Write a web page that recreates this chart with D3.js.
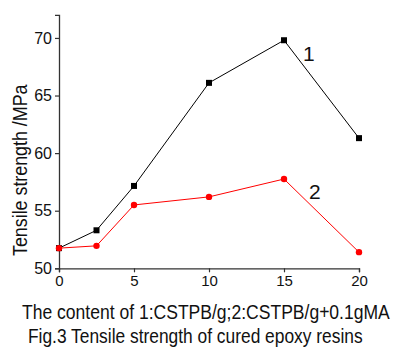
<!DOCTYPE html>
<html>
<head>
<meta charset="utf-8">
<script src="https://cdn.jsdelivr.net/npm/d3@7"></script>
<style>
  body { margin: 0; background: #fff; }
  text { font-family: "Liberation Sans", Arial, sans-serif; fill: #111; }
</style>
</head>
<body>
<div id="chart"></div>
<script>
// data
var contents = [0, 2.5, 5, 10, 15, 20];
var series1 = [51.75, 53.3, 57.15, 66.1, 69.8, 61.3];   // 1: CSTPB
var series2 = [51.75, 51.95, 55.5, 56.2, 57.75, 51.4];  // 2: CSTPB + 0.1g MA
var xTicks = [0, 5, 10, 15, 20];
var yTicks = [50, 55, 60, 65, 70];

var width = 401, height = 347;
var x0 = 59, x1 = 359, yTop = 14.9, yBot = 268.3;

var svg = d3.select("#chart").append("svg")
	.attr("width", width)
	.attr("height", height);

var x = d3.scaleLinear().domain([0, 20]).range([x0, x1]);
var y = d3.scaleLinear().domain([50, 72]).range([yBot, yTop]);

// axes
var xAxis = svg.append("g")
	.attr("transform", "translate(0," + yBot + ")")
	.call(d3.axisBottom(x).tickValues(xTicks).tickSize(4).tickPadding(3).tickFormat(d3.format("d")));
var yAxis = svg.append("g")
	.attr("transform", "translate(" + x0 + ",0)")
	.call(d3.axisLeft(y).tickValues(yTicks).tickSize(4).tickPadding(3).tickFormat(d3.format("d")));

[xAxis, yAxis].forEach(function(a) {
	a.select(".domain").attr("stroke", "#333").attr("stroke-width", 1.3);
	a.selectAll(".tick line").attr("stroke", "#333").attr("stroke-width", 1.2);
	a.selectAll(".tick text")
		.style("font-family", "Liberation Sans, Arial, sans-serif")
		.attr("fill", "#111");
});
xAxis.selectAll(".tick text").style("font-size", "15px");
yAxis.selectAll(".tick text").style("font-size", "16px");

// lines
var line = d3.line()
	.x(function(d) { return x(d[0]); })
	.y(function(d) { return y(d[1]); });

var pts1 = contents.map(function(c, i) { return [c, series1[i]]; });
var pts2 = contents.map(function(c, i) { return [c, series2[i]]; });

svg.append("path")
	.datum(pts2)
	.attr("d", line)
	.attr("fill", "none")
	.attr("stroke", "#ff0000")
	.attr("stroke-width", 1);

svg.append("path")
	.datum(pts1)
	.attr("d", line)
	.attr("fill", "none")
	.attr("stroke", "#000")
	.attr("stroke-width", 1);

svg.selectAll(".sq")
	.data(pts1)
	.enter().append("rect")
		.attr("x", function(d) { return x(d[0]) - 3; })
		.attr("y", function(d) { return y(d[1]) - 3; })
		.attr("width", 6)
		.attr("height", 6)
		.attr("fill", "#000");

svg.selectAll(".dot")
	.data(pts2)
	.enter().append("circle")
		.attr("cx", function(d) { return x(d[0]); })
		.attr("cy", function(d) { return y(d[1]); })
		.attr("r", 3.2)
		.attr("fill", "#ff0000");

// series labels
svg.append("text").attr("x", 303).attr("y", 61).style("font-size", "21px").text("1");
svg.append("text").attr("x", 309).attr("y", 199).style("font-size", "21px").text("2");

// axis titles - source font is condensed, so squeeze horizontally
svg.append("text")
	.attr("transform", "translate(27,256) rotate(-90) scale(0.85,1)")
	.style("font-size", "21px")
	.text("Tensile strength /MPa");

svg.append("text")
	.attr("transform", "translate(22,319) scale(0.877,1)")
	.style("font-size", "20px")
	.text("The content of 1:CSTPB/g;2:CSTPB/g+0.1gMA");

svg.append("text")
	.attr("transform", "translate(28,342.5) scale(0.869,1)")
	.style("font-size", "20px")
	.text("Fig.3 Tensile strength of cured epoxy resins");
</script>
</body>
</html>
